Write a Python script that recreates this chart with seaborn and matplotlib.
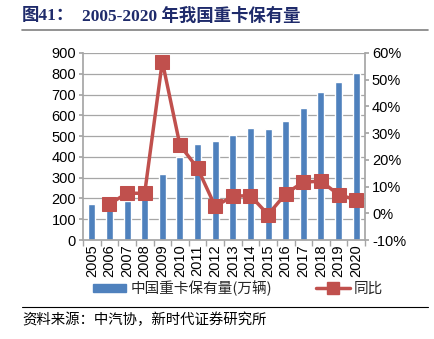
import matplotlib
matplotlib.use("Agg")
import matplotlib.pyplot as plt
import seaborn as sns
import numpy as np
import pandas as pd
from matplotlib.lines import Line2D
from matplotlib.patches import Patch

years = ["2005", "2006", "2007", "2008", "2009", "2010", "2011", "2012",
         "2013", "2014", "2015", "2016", "2017", "2018", "2019", "2020"]
stock = [172, 176, 189, 203, 317, 398, 463, 476, 503, 537, 533, 573, 637, 711, 762, 802]
yoy = [np.nan, 3.5, 7.5, 7.5, 56.8, 25.5, 16.9, 2.6, 6.4, 6.6, -0.5, 7.3, 11.7, 12.0, 7.0, 5.0]

bar_label = "中国重卡保有量(万辆)"
line_label = "同比"
title_num = "图41："
title = "2005-2020 年我国重卡保有量"
source = "资料来源：中汽协，新时代证券研究所"

sns.set_theme(style="white")
plt.rcParams['font.family'] = ['Liberation Sans', 'Noto Sans CJK SC']

df = pd.DataFrame({"year": years, "stock": stock, "yoy": yoy})
df["pos"] = np.arange(len(years))

W, H = 434, 339
fig = plt.figure(figsize=(W / 100, H / 100), dpi=100)
ax = fig.add_axes([83 / W, 1 - 240 / H, (365 - 83) / W, (240 - 53) / H])

bar_color = "#4F81BD"
line_color = "#C0504D"

sns.barplot(data=df, x="year", y="stock", color=bar_color, width=0.4,
            saturation=1, ax=ax, zorder=2)
ax.set_ylim(0, 900)
ax.set_yticks(range(0, 901, 100))
ax.set_xlim(-0.5, len(years) - 0.5)
ax.grid(axis="y", color="#A6A6A6", linewidth=0.9, zorder=0)
ax.set_axisbelow(True)
ax.set_xlabel("")
ax.set_ylabel("")
ax.tick_params(axis="x", rotation=90, labelsize=10.5, length=0, colors="black", pad=3)
ax.tick_params(axis="y", labelsize=10.5, length=3, direction="out", left=True, pad=2,
               color="#A6A6A6", labelcolor="black")
for s in ["top", "right"]:
    ax.spines[s].set_visible(False)
for s in ["left", "bottom"]:
    ax.spines[s].set_color("#A6A6A6")
ax.set_xticks(np.arange(-0.5, len(years), 1), minor=True)
ax.tick_params(axis="x", which="minor", length=4, color="#A6A6A6", bottom=True)

ax2 = ax.twinx()
sns.lineplot(data=df.dropna(), x="pos", y="yoy", color=line_color, linewidth=2.5,
             marker="s", markersize=10, markeredgecolor=line_color, ax=ax2, zorder=3)
ax2.set_ylim(-10, 60)
ax2.set_yticks(range(-10, 61, 10))
ax2.set_yticklabels([f"{v}%" for v in range(-10, 61, 10)])
ax2.set_ylabel("")
ax2.set_xlabel("")
ax2.set_xlim(-0.5, len(years) - 0.5)
ax2.tick_params(axis="y", labelsize=10.5, length=3, direction="out", right=True, pad=2,
                color="#A6A6A6", labelcolor="black")
for s in ["top", "left", "bottom"]:
    ax2.spines[s].set_visible(False)
ax2.spines["right"].set_color("#A6A6A6")
ax2.grid(False)

# legend
handles = [Patch(facecolor=bar_color, edgecolor=bar_color),
           Line2D([0], [0], color=line_color, linewidth=2.5, marker="s", markersize=8)]
fig.legend(handles, [bar_label, line_label], loc="center", bbox_to_anchor=(238 / W, 1 - 288 / H),
           ncol=2, frameon=False, columnspacing=3.0, handlelength=2.3,
           handleheight=0.5, handletextpad=0.3,
           prop={"family": ["Noto Sans CJK SC"], "size": 10.5})

# title
fig.text(22 / W, 1 - 16 / H, title_num, fontsize=12.5, fontweight="bold", color="#1F2B6B",
         family=["Liberation Serif", "Noto Sans CJK SC"], va="center", ha="left")
fig.text(82 / W, 1 - 16 / H, title, fontsize=12.5, fontweight="bold", color="#1F2B6B",
         family=["Liberation Serif", "Noto Sans CJK SC"], va="center", ha="left")
fig.add_artist(Line2D([22 / W, 428 / W], [1 - 30 / H, 1 - 30 / H], color="#808080", linewidth=1.2))
# source
fig.add_artist(Line2D([22 / W, 428 / W], [1 - 307 / H, 1 - 307 / H], color="black", linewidth=0.8))
fig.text(22 / W, 1 - 320 / H, source, fontsize=10.4, color="black",
         family=["Noto Sans CJK SC"], va="center", ha="left")

fig.savefig("out.png", dpi=100)
